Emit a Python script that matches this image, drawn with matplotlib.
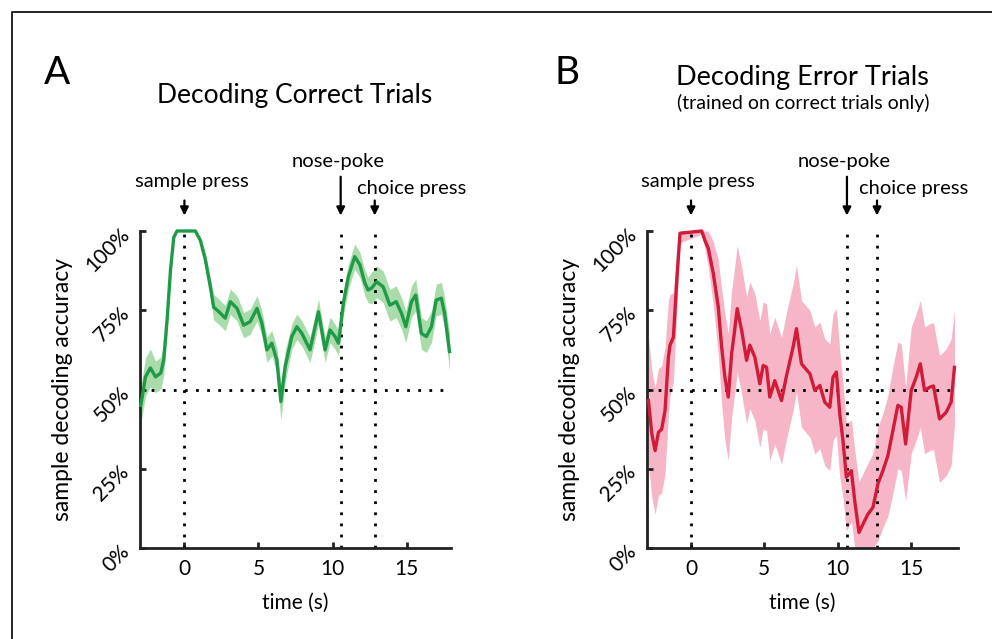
import matplotlib
matplotlib.use("Agg")
import matplotlib.pyplot as plt
from matplotlib.lines import Line2D
import numpy as np

plt.rcParams['font.family'] = ['Lato', 'DejaVu Sans']

# ---- data: panel A (correct trials) ----
t_a = [-2.95, -2.85, -2.63, -2.3, -1.95, -1.6, -1.4, -1.17, -0.94, -0.72, -0.5, 0.74, 1.08, 1.41, 1.75,
       1.97, 2.31, 2.76, 3.1, 3.55, 4.0, 4.44, 4.9, 5.23, 5.57, 5.9, 6.24, 6.51, 6.8, 7.25,
       7.59, 7.93, 8.48, 9.05, 9.5, 9.83, 10.17, 10.4, 10.73, 11.07, 11.5, 11.85, 12.19, 12.4, 12.64,
       12.98, 13.42, 13.87, 14.3, 14.66, 14.95, 15.33, 15.62, 16.0, 16.34, 16.68, 17.0, 17.35, 17.57, 17.9]
acc_a = [45, 47.7, 54, 56.8, 54, 55.2, 59.3, 72, 87.7, 98, 100, 100, 97, 91, 82.4,
         76, 74.6, 72.5, 77.7, 75.6, 70.3, 71.4, 75.6, 70.9, 62.5, 64.6, 59.3, 46.2, 57.2, 66.7,
         69.8, 67.7, 62.5, 74.5, 62.5, 68.8, 66.7, 64.6, 77.2, 85.6, 91.9, 89.3, 83.5, 81.4, 82,
         84, 82.4, 76.6, 77.7, 74, 69.8, 77.7, 79.8, 67.7, 66.7, 69.8, 78.2, 78.8, 74, 62]
sem_a = [6, 6, 6, 6, 5, 5, 5, 4, 3, 1, 0, 0, 1, 2, 3,
         4, 4, 4, 4, 4, 4, 4, 4, 4, 4, 4, 4, 6, 5, 4,
         4, 4, 4, 4, 4, 4, 4, 4, 4, 4, 4, 4, 4, 4, 5,
         5, 5, 5, 5, 5, 5, 5, 5, 5, 5, 5, 5, 5, 5, 6]

# ---- data: panel B (error trials) ----
t_b = [-2.9, -2.67, -2.45, -2.22, -2.0, -1.77, -1.54, -1.43, -1.2, -0.97, -0.75, 0.73, 0.95, 1.18, 1.52,
       1.86, 2.09, 2.31, 2.54, 2.77, 2.93, 3.15, 3.45, 3.79, 4.01, 4.35, 4.69, 4.92, 5.15, 5.37,
       5.71, 6.17, 6.51, 6.96, 7.19, 7.53, 8.1, 8.44, 8.78, 9.12, 9.46, 9.68, 9.91, 10.14, 10.36,
       10.59, 10.93, 11.16, 11.45, 11.72, 12.06, 12.4, 12.74, 13.08, 13.42, 13.76, 14.1, 14.33, 14.63, 15.01,
       15.35, 15.63, 15.92, 16.26, 16.53, 16.94, 17.39, 17.73, 17.96]
acc_b = [46.5, 36, 30.7, 36.5, 37.5, 43.4, 60.2, 64, 66.5, 84.5, 99.3, 100, 97, 94.5, 86.6,
         76, 63.4, 53.9, 47.6, 61.3, 67, 75.5, 68.7, 59.2, 64, 60.2, 51.8, 57.6, 57, 47.6,
         52.8, 46.5, 54.4, 63.4, 69.2, 58.1, 55, 49.7, 51.3, 46, 44.4, 53.9, 55.5, 42.3, 33.9,
         22.3, 24.4, 14.9, 4.9, 7.5, 10.7, 12.8, 20.2, 24.4, 29.1, 37, 45, 44.4, 32.8, 49.7,
         53.9, 58.1, 49.7, 50.7, 51.1, 40.7, 42.8, 46, 57]
sem_b = [20, 20, 20, 20, 20, 20, 18, 16, 14, 10, 3, 1, 3, 6, 10,
         15, 18, 20, 20, 20, 20, 20, 20, 20, 20, 20, 20, 20, 20, 20,
         20, 20, 20, 20, 20, 20, 20, 20, 20, 20, 20, 20, 20, 20, 18,
         17, 16, 16, 16, 16, 16, 17, 18, 18, 19, 20, 20, 20, 18, 20,
         20, 20, 20, 20, 20, 20, 20, 20, 18]

yticks = [0, 25, 50, 75, 100]
ytick_labels = ['0%', '25%', '50%', '75%', '100%']
xticks = [0, 5, 10, 15]

W, H = 992, 639
fig = plt.figure(figsize=(W / 100, H / 100), dpi=100)

# thin frame on the top and left
fig.add_artist(Line2D([12 / W, 12 / W, 1], [0, 1 - 11.5 / H, 1 - 11.5 / H],
                      transform=fig.transFigure, color='black', lw=1.2))


def panel(left_px, xmax, t, acc, sem, line_col, band_col, nose, choice):
    ax = fig.add_axes([left_px / W, 1 - 548 / H, 311 / W, 317 / H])
    t = np.array(t)
    acc = np.array(acc)
    sem = np.array(sem)
    ax.fill_between(t, np.clip(acc - sem, 0, 100), np.clip(acc + sem, 0, 100),
                    color=band_col, lw=0, zorder=1)
    ax.plot(t, acc, color=line_col, lw=2.4, zorder=3, clip_on=False)

    dots = (0, (1, 3))
    ax.axhline(50, color='black', lw=2, ls=dots, zorder=2)
    for ev in [0, nose, choice]:
        ax.plot([ev, ev], [0, 100], color='black', lw=2, ls=dots, zorder=2)

    ax.set_xlim(-3, xmax)
    ax.set_ylim(0, 100)
    for s in ['top', 'right']:
        ax.spines[s].set_visible(False)
    for s in ['left', 'bottom']:
        ax.spines[s].set_linewidth(2)
        ax.spines[s].set_color('#222222')
    ax.tick_params(direction='in', length=4, width=2, color='#222222', labelsize=15)
    ax.tick_params(axis='x', pad=8)
    ax.set_xticks(xticks)
    ax.set_yticks(yticks)
    ax.set_yticklabels(ytick_labels, rotation=45, ha='right', va='center',
                       rotation_mode='anchor')
    ax.tick_params(axis='y', pad=10)
    ax.set_xlabel('time (s)', fontsize=15)
    ax.xaxis.set_label_coords(0.5, -0.14)
    ax.set_ylabel('sample decoding accuracy', fontsize=16.5)
    ax.yaxis.set_label_coords(-0.215, 0.5)

    # event arrows
    arr = dict(arrowstyle='-|>', color='black', lw=1.6, mutation_scale=12)
    ax.annotate('', xy=(0, 104), xytext=(0, 110.5), arrowprops=arr, annotation_clip=False)
    ax.annotate('', xy=(nose, 104), xytext=(nose, 118), arrowprops=arr, annotation_clip=False)
    ax.annotate('', xy=(choice, 104), xytext=(choice, 110.5), arrowprops=arr, annotation_clip=False)
    ax.text(0.5, 115.5, 'sample press', fontsize=14.5, ha='center', va='center', clip_on=False)
    ax.text(nose - 0.2, 122, 'nose-poke', fontsize=14.5, ha='center', va='center', clip_on=False)
    ax.text(choice - 1.2, 113.5, 'choice press', fontsize=14.5, ha='left', va='center', clip_on=False)
    return ax


panel(140, 18, t_a, acc_a, sem_a, '#1f9a48', '#a9dcaa', 10.55, 12.85)
panel(647, 18.2, t_b, acc_b, sem_b, '#d01c38', '#f6b6c8', 10.63, 12.68)

fig.text(57 / W, 1 - 73 / H, 'A', fontsize=28, ha='center', va='center')
fig.text(567 / W, 1 - 73 / H, 'B', fontsize=28, ha='center', va='center')
fig.text(295 / W, 1 - 95 / H, 'Decoding Correct Trials', fontsize=19, ha='center', va='center')
fig.text(802 / W, 1 - 78 / H, 'Decoding Error Trials', fontsize=19.5, ha='center', va='center')
fig.text(803 / W, 1 - 103 / H, '(trained on correct trials only)', fontsize=14,
         ha='center', va='center')

fig.savefig('out.png', dpi=100)
